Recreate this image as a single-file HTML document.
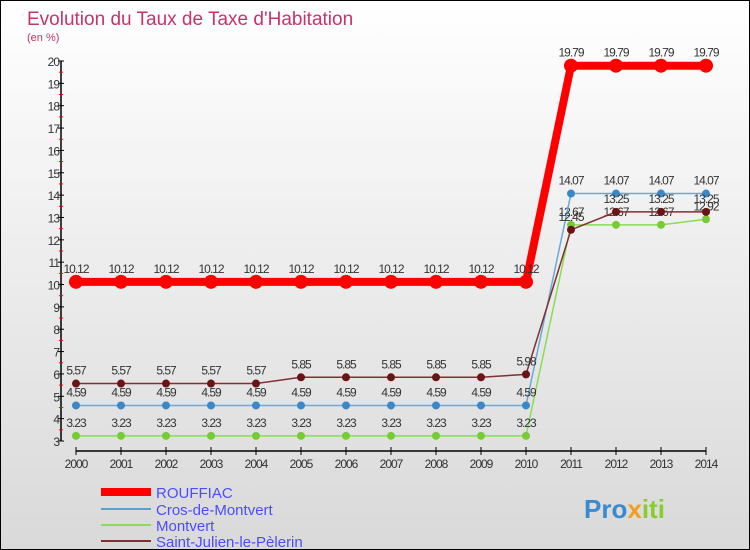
<!DOCTYPE html>
<html><head><meta charset="utf-8"><style>
body{margin:0}
#c{width:750px;height:550px;position:relative;overflow:hidden;background:linear-gradient(#ffffff,#d9d9d9);box-sizing:border-box;border:1px solid #000;font-family:"Liberation Sans",sans-serif}
svg text{font-family:"Liberation Sans",sans-serif}
</style></head><body>
<div id="c">
<svg id="s" width="750" height="550">
<text x="26" y="24" font-size="19" fill="#c8336a">Evolution du Taux de Taxe d'Habitation</text>
<text x="26" y="40" font-size="11" fill="#c8336a">(en %)</text>
<g id="ax"></g><g id="ser"></g>
<g>
<line x1="100" y1="491" x2="150" y2="491" stroke="#ff0000" stroke-width="8"/>
<text x="155" y="497" font-size="15" fill="#4c4cff">ROUFFIAC</text>
<line x1="100" y1="508" x2="150" y2="508" stroke="#5aa0d0" stroke-width="2"/>
<text x="155" y="514" font-size="15" fill="#4c4cff">Cros-de-Montvert</text>
<line x1="100" y1="524" x2="150" y2="524" stroke="#88dd55" stroke-width="2"/>
<text x="155" y="530" font-size="15" fill="#4c4cff">Montvert</text>
<line x1="100" y1="540" x2="150" y2="540" stroke="#803030" stroke-width="2"/>
<text x="155" y="546" font-size="15" fill="#4c4cff">Saint-Julien-le-Pèlerin</text>
</g>
<text x="583" y="517" font-size="26" font-weight="bold" fill="#3a8ad0">Pro<tspan fill="#f0a020">x</tspan><tspan fill="#88cc33">iti</tspan></text>
</svg>
</div>
<script>
const years=[2000,2001,2002,2003,2004,2005,2006,2007,2008,2009,2010,2011,2012,2013,2014];
const rouffiac=[10.12,10.12,10.12,10.12,10.12,10.12,10.12,10.12,10.12,10.12,10.12,19.79,19.79,19.79,19.79];
const cros=[4.59,4.59,4.59,4.59,4.59,4.59,4.59,4.59,4.59,4.59,4.59,14.07,14.07,14.07,14.07];
const montvert=[3.23,3.23,3.23,3.23,3.23,3.23,3.23,3.23,3.23,3.23,3.23,12.67,12.67,12.67,12.92];
const stjulien=[5.57,5.57,5.57,5.57,5.57,5.85,5.85,5.85,5.85,5.85,5.98,12.45,13.25,13.25,13.25];
const yTicks=[3,4,5,6,7,8,9,10,11,12,13,14,15,16,17,18,19,20];
const NS="http://www.w3.org/2000/svg";
const X=i=>75+i*45, Y=v=>440-(v-3)*380/17;
function mk(t,a,p){const e=document.createElementNS(NS,t);for(const k in a)e.setAttribute(k,a[k]);p.appendChild(e);return e;}
const ax=document.getElementById('ax'),ser=document.getElementById('ser');
let l=mk('line',{x1:60,y1:Y(20),x2:60,y2:440,stroke:'#000','stroke-width':1.5},ax);


yTicks.forEach(v=>{
 mk('line',{x1:57,y1:Y(v),x2:63,y2:Y(v),stroke:'#000'},ax);
 if(v<20)mk('line',{x1:58,y1:Y(v+0.5),x2:62,y2:Y(v+0.5),stroke:'#f00'},ax);
 const t=mk('text',{x:58,y:Y(v)+5,'font-size':12,fill:'#333','text-anchor':'end','letter-spacing':'-1'},ax);t.textContent=v;
 
 
});
l=mk('line',{x1:X(0),y1:450,x2:X(14),y2:450,stroke:'#000','stroke-width':1.5},ax);


years.forEach((y,i)=>{
 mk('line',{x1:X(i),y1:446,x2:X(i),y2:454,stroke:'#000'},ax);
 const t=mk('text',{x:X(i),y:467,'font-size':12,fill:'#333','text-anchor':'middle','letter-spacing':'-1'},ax);t.textContent=y;
 
 
});
function series(d,name,col,w,r,pc){
 const g=mk('g',{},ser);
 
 
 const p=mk('polyline',{points:d.map((v,i)=>X(i)+','+Y(v)).join(' '),fill:'none',stroke:col,'stroke-width':w},g);
 
 
 d.forEach((v,i)=>{
  const c=mk('circle',{cx:X(i),cy:Y(v),r:r,fill:pc},g);
  
  
  const t=mk('text',{x:X(i),y:Y(v)-9,'font-size':12,fill:'#333','text-anchor':'middle','letter-spacing':'-1'},g);t.textContent=v.toFixed(2).replace(/0$/,'').replace(/\.$/,'');
  if(v===3.23||v===4.59||v===5.57||v===5.85)t.textContent=v;
  
  
 });
}
series(montvert,'montvert','#88dd55',1.5,4,'#77cc33');
series(cros,'cros-de-montvert','#6aaad8',1.5,4,'#3a88c8');
series(stjulien,'saint-julien','#803030',1.5,4,'#6a1515');
series(rouffiac,'rouffiac','#ff0000',8,7,'#ff0000');
</script>
</body></html>
